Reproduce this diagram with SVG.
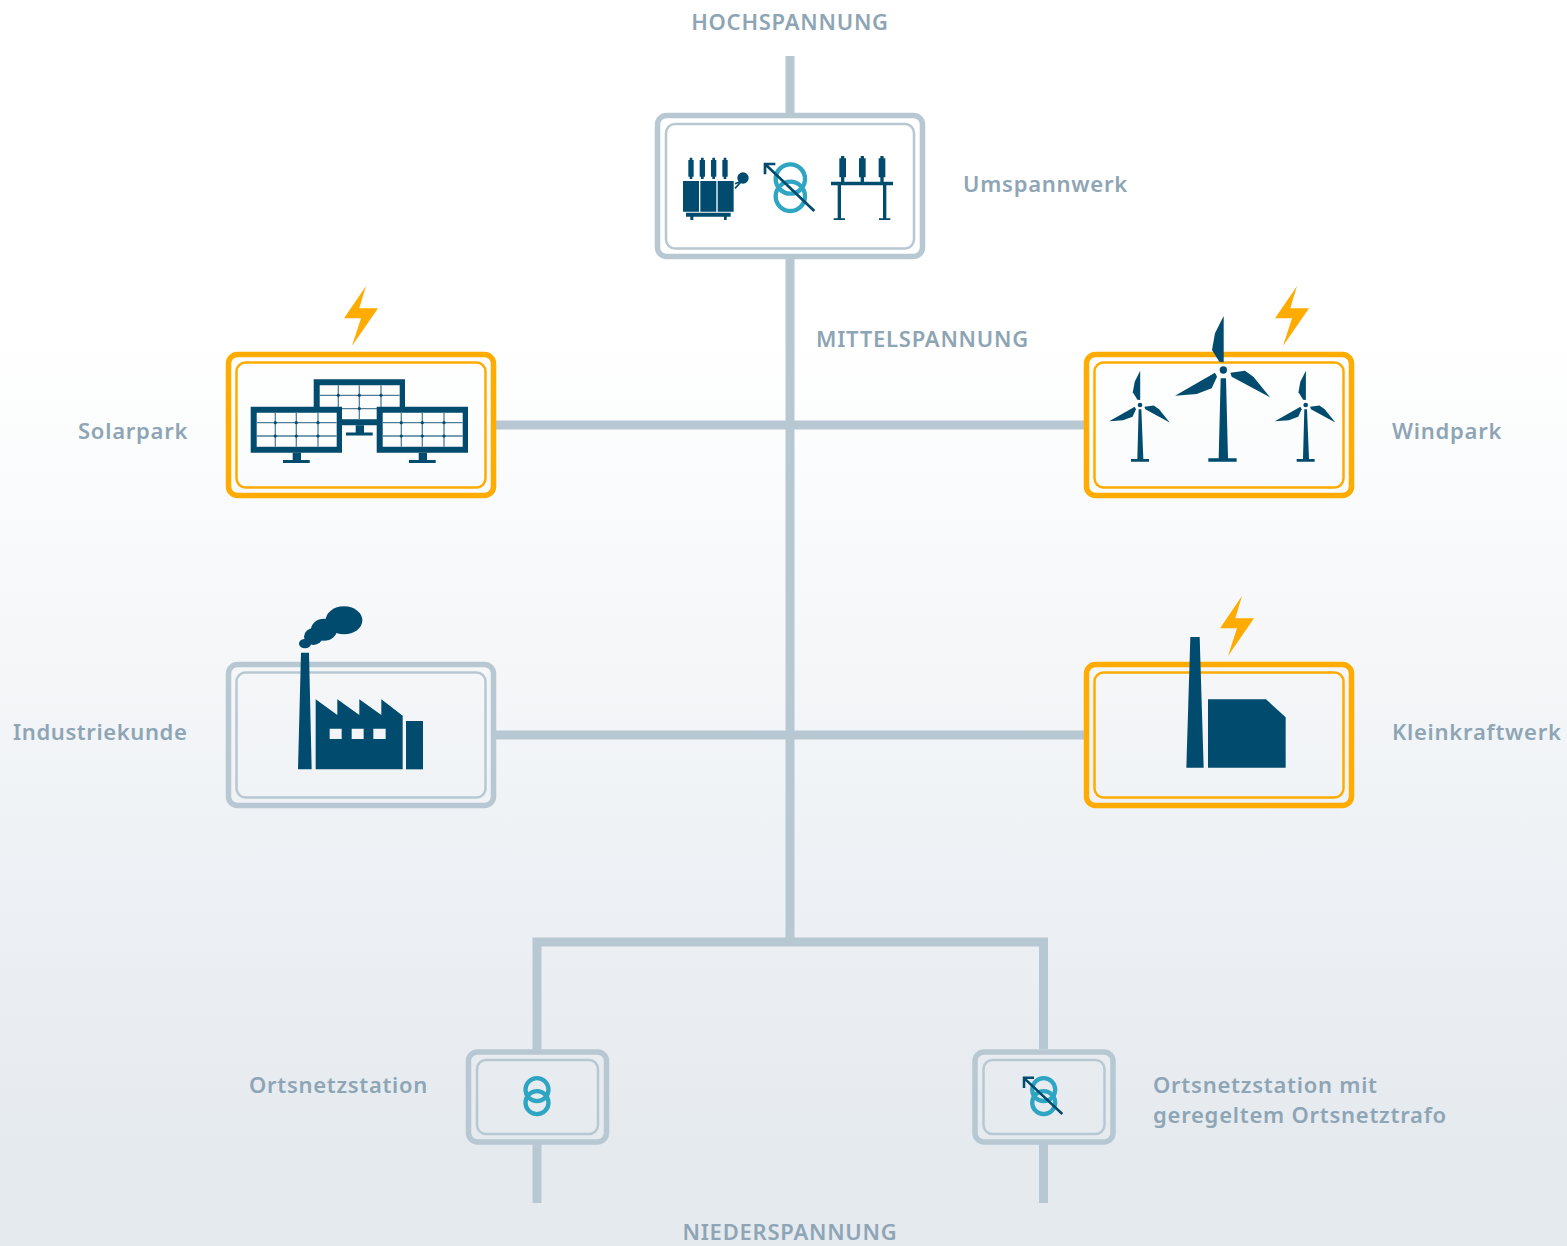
<svg xmlns="http://www.w3.org/2000/svg" xmlns:xlink="http://www.w3.org/1999/xlink" width="1567" height="1246" viewBox="0 0 1567 1246">
<style>
text{font-family:"Noto Sans","Open Sans","Liberation Sans",sans-serif;font-weight:600;font-size:22px;fill:#8ea5b5;letter-spacing:.75px}
.m{text-anchor:middle}
.out{fill:none;stroke:#b8c8d3;stroke-width:5.500}.in{fill:none;stroke:#b8c8d3;stroke-width:2.500}
.oo{fill:none;stroke:#ffab00;stroke-width:5.500}.io{fill:none;stroke:#ffab00;stroke-width:2.500}
.d{fill:#004b6e}.r{fill:none;stroke:#2fa5c4}.ar{fill:none;stroke:#004b6e}
.c{stroke:#b8c8d3;stroke-width:9;fill:none}
.g{stroke:#4f7f98;stroke-width:1.300;fill:none}
</style>
<defs>
<linearGradient id="bg" x1="0" y1="0" x2="0" y2="1"><stop offset="0" stop-color="#fff"/><stop offset=".27" stop-color="#fff"/><stop offset=".92" stop-color="#e5eaef"/><stop offset="1" stop-color="#e5eaef"/></linearGradient>
<polygon id="bolt" points="22,0 15.300,22.300 34,22.300 8,60 17,32.300 0,32.300" fill="#ffab00"/>
<g id="panel">
<rect x="3" y="3" width="85" height="40" fill="#fcfdfd"/>
<path class="d" fill-rule="evenodd" d="M0 0H91.300V46H0ZM6 6V40H86V6Z"/>
<path class="g" d="M24.600 6V40M45.600 6V40M67.300 6V40M6 16H86M6 29.300H86"/>
<g class="d"><circle cx="24.600" cy="16" r="1.600"/><circle cx="45.600" cy="16" r="1.600"/><circle cx="67.300" cy="16" r="1.600"/><circle cx="24.600" cy="29.300" r="1.600"/><circle cx="45.600" cy="29.300" r="1.600"/><circle cx="67.300" cy="29.300" r="1.600"/></g>
<path class="d" d="M42 46H50.300V53.300H59V56.300H32.300V53.300H42Z"/>
</g>
<g id="rotor">
<path class="d" d="M431 108V247L418 245L396 210L405 160Z"/>
<path class="d" d="M451 278L495 272L520 290L570 352L455 290Z"/>
<path class="d" d="M285 347L405 278L411 290L395 325L350 342Z"/>
</g>
</defs>
<rect width="1567" height="1246" fill="url(#bg)"/>
<g id="connectors" class="c">
<path d="M790 56V113M790 258V942"/>
<path d="M496 425H1084M496 735H1084"/>
<path d="M537 1050V942H1043.500V1049M537 1144V1203M1043.500 1144V1203"/>
</g>
<g id="umspannwerk">
<rect x="657.500" y="115.500" width="265" height="141" rx="9" class="out" style="fill:#fff"/>
<rect x="666" y="124" width="248" height="124.500" rx="9" class="in"/>
<g transform="translate(650 105) scale(.33333)">
<path class="d" d="M99 228H147V320H99ZM151 228H199V320H151ZM203 228H251V320H203ZM108 323H242V335H230V345H222V335H130V345H121V335H108ZM115 165H119V158H127V165H131V215H127V222H119V215H115ZM149 165H153V158H161V165H165V215H161V222H153V215H149ZM183 165H187V158H195V165H199V215H195V222H187V215H183ZM217 165H221V158H229V165H233V215H229V222H221V215H217Z"/>
<circle class="d" cx="279" cy="219" r="17"/>
<path class="ar" stroke-width="5" d="M255 236L270 230M255 250L271 233"/>
<circle class="r" cx="421" cy="222" r="44" stroke-width="13"/>
<circle class="r" cx="421" cy="274" r="44" stroke-width="13"/>
<path class="ar" stroke-width="8" d="M493 318L345 177M345 208V177H376"/>
<path class="d" d="M543 230H573V217H568V160H573V153H583V160H588V217H583V230H632V217H627V160H632V153H642V160H647V217H642V230H691V217H686V160H691V153H701V160H706V217H701V230H729V241H709V340H721V345H687V340H699V241H573V340H585V345H551V340H563V241H543Z"/>
</g>
</g>
<g id="solarpark">
<rect x="228.500" y="354.500" width="265" height="141" rx="9" class="oo"/>
<rect x="236.500" y="362.500" width="249" height="125" rx="9" class="io"/>
<use href="#bolt" x="344" y="286"/>
<use href="#panel" x="313.700" y="379.300"/>
<use href="#panel" x="250.700" y="406.700"/>
<use href="#panel" x="376.700" y="406.700"/>
</g>
<g id="windpark">
<rect x="1086.500" y="354.500" width="265" height="141" rx="9" class="oo"/>
<rect x="1094.500" y="362.500" width="249" height="125" rx="9" class="io"/>
<use href="#bolt" x="1275" y="286"/>
<g transform="translate(1080 280) scale(.33333)">
<use href="#rotor"/>
<circle class="d" cx="430" cy="270" r="11"/>
<path class="d" d="M422 295H438L444 535H470V545H385V535H416Z"/>
<use href="#rotor" transform="translate(180 375) scale(.636) translate(-430 -270)"/>
<circle class="d" cx="180" cy="375" r="7"/>
<path class="d" d="M176 388H184L190 537H207V545H153V537H172Z"/>
<use href="#rotor" transform="translate(677 375) scale(.636) translate(-430 -270)"/>
<circle class="d" cx="677" cy="375" r="7"/>
<path class="d" d="M673 388H681L687 537H704V545H650V537H669Z"/>
</g>
</g>
<g id="industriekunde">
<rect x="228.500" y="664.500" width="265" height="141" rx="9" class="out"/>
<rect x="236.500" y="672.500" width="249" height="125" rx="9" class="in"/>
<g transform="translate(220 595) scale(.33333)">
<path class="d" d="M243 173H267L275 523H234Z"/>
<path class="d" fill-rule="evenodd" d="M287 313L352 360V313L418 360V313L484 360V313L548 362V523H287ZM329 401V432H365V401ZM395 401V432H431V401ZM460 401V432H497V401Z"/>
<rect class="d" x="558" y="378" width="51" height="145"/>
<ellipse class="d" cx="372" cy="76" rx="55" ry="42"/>
<ellipse class="d" cx="312" cy="104" rx="39" ry="33"/>
<ellipse class="d" cx="280" cy="125" rx="28" ry="25"/>
<ellipse class="d" cx="255" cy="146" rx="18" ry="14"/>
</g>
</g>
<g id="kleinkraftwerk">
<rect x="1086.500" y="664.500" width="265" height="141" rx="9" class="oo"/>
<rect x="1094.500" y="672.500" width="249" height="125" rx="9" class="io"/>
<use href="#bolt" x="1220" y="596"/>
<g transform="translate(1080 590) scale(.33333)">
<path class="d" d="M331 141H359L371 533H319Z"/>
<path class="d" d="M384 328H558L617 382V533H384Z"/>
</g>
</g>
<g id="ortsnetzstation">
<rect x="468.500" y="1052" width="138" height="90" rx="9" class="out"/>
<rect x="477" y="1060" width="121" height="74" rx="9" class="in"/>
<circle class="r" cx="537" cy="1089.700" r="11.500" stroke-width="4.300"/>
<circle class="r" cx="537" cy="1102.700" r="11.500" stroke-width="4.300"/>
</g>
<g id="ortsnetzstation-geregelt">
<rect x="975" y="1052" width="138" height="90" rx="9" class="out"/>
<rect x="983.500" y="1060" width="121" height="74" rx="9" class="in"/>
<circle class="r" cx="1043.700" cy="1089.700" r="11.500" stroke-width="4.300"/>
<circle class="r" cx="1043.700" cy="1102.700" r="11.500" stroke-width="4.300"/>
<path class="ar" stroke-width="2.500" d="M1062.300 1114L1023.800 1077.800M1024 1088V1077.700H1034"/>
</g>
<g id="labels">
<text class="m" x="790" y="30">HOCHSPANNUNG</text>
<text x="963" y="192">Umspannwerk</text>
<text x="816" y="347">MITTELSPANNUNG</text>
<text x="78" y="439">Solarpark</text>
<text x="1392" y="439">Windpark</text>
<text x="13" y="740" style="letter-spacing:.6px">Industriekunde</text>
<text x="1392" y="740">Kleinkraftwerk</text>
<text x="249" y="1093" style="letter-spacing:.7px">Ortsnetzstation</text>
<text x="1153" y="1093">Ortsnetzstation mit</text>
<text x="1153" y="1123">geregeltem Ortsnetztrafo</text>
<text class="m" x="790" y="1240">NIEDERSPANNUNG</text>
</g>
</svg>
